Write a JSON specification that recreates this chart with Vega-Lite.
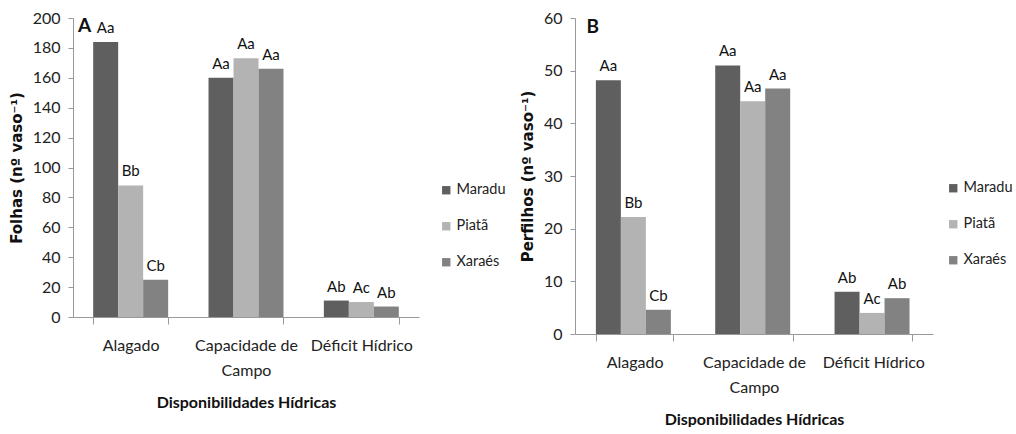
{
  "$schema": "https://vega.github.io/schema/vega-lite/v6.json",
  "padding": {"left": 9, "top": 10, "right": 0, "bottom": 0},
  "background": "white",
  "datasets": {
    "folhas": [
      {"cond": "Alagado", "cult": "Maradu", "value": 184, "letter": "Aa"},
      {"cond": "Alagado", "cult": "Piatã", "value": 88, "letter": "Bb"},
      {"cond": "Alagado", "cult": "Xaraés", "value": 25, "letter": "Cb"},
      {"cond": "Capacidade de Campo", "cult": "Maradu", "value": 160, "letter": "Aa"},
      {"cond": "Capacidade de Campo", "cult": "Piatã", "value": 173, "letter": "Aa"},
      {"cond": "Capacidade de Campo", "cult": "Xaraés", "value": 166, "letter": "Aa"},
      {"cond": "Déficit Hídrico", "cult": "Maradu", "value": 11, "letter": "Ab"},
      {"cond": "Déficit Hídrico", "cult": "Piatã", "value": 10, "letter": "Ac"},
      {"cond": "Déficit Hídrico", "cult": "Xaraés", "value": 7, "letter": "Ab"}
    ],
    "perfilhos": [
      {"cond": "Alagado", "cult": "Maradu", "value": 48.2, "letter": "Aa"},
      {"cond": "Alagado", "cult": "Piatã", "value": 22.2, "letter": "Bb"},
      {"cond": "Alagado", "cult": "Xaraés", "value": 4.6, "letter": "Cb"},
      {"cond": "Capacidade de Campo", "cult": "Maradu", "value": 51, "letter": "Aa"},
      {"cond": "Capacidade de Campo", "cult": "Piatã", "value": 44.2, "letter": "Aa"},
      {"cond": "Capacidade de Campo", "cult": "Xaraés", "value": 46.6, "letter": "Aa"},
      {"cond": "Déficit Hídrico", "cult": "Maradu", "value": 8, "letter": "Ab"},
      {"cond": "Déficit Hídrico", "cult": "Piatã", "value": 4, "letter": "Ac"},
      {"cond": "Déficit Hídrico", "cult": "Xaraés", "value": 6.8, "letter": "Ab"}
    ]
  },
  "hconcat": [
    {
      "width": 346,
      "height": 299,
      "data": {"name": "folhas"},
      "layer": [
        {
          "mark": {"type": "bar"},
          "encoding": {
            "x": {"field": "cond", "type": "nominal", "sort": ["Alagado", "Capacidade de Campo", "Déficit Hídrico"], "scale": {"paddingInner": 0.35, "paddingOuter": 0.175}, "title": "Disponibilidades Hídricas"},
            "xOffset": {"field": "cult", "type": "nominal", "sort": ["Maradu", "Piatã", "Xaraés"], "scale": {"padding": 0}},
            "y": {"field": "value", "type": "quantitative", "scale": {"domain": [0, 200], "nice": false}, "axis": {"values": [0, 20, 40, 60, 80, 100, 120, 140, 160, 180, 200], "labelOverlap": false}, "title": "Folhas (nº vaso⁻¹)"},
            "color": {"field": "cult", "type": "nominal", "scale": {"domain": ["Maradu", "Piatã", "Xaraés"], "range": ["#5f5f5f", "#b3b3b3", "#828282"]}, "legend": {"orient": "none", "legendX": 366, "legendY": 165}}
          }
        },
        {
          "mark": {"type": "text", "baseline": "bottom", "dy": -6, "fontSize": 15, "font": "Lato", "color": "#111"},
          "encoding": {
            "x": {"field": "cond", "type": "nominal", "sort": ["Alagado", "Capacidade de Campo", "Déficit Hídrico"], "title": "Disponibilidades Hídricas"},
            "xOffset": {"field": "cult", "type": "nominal", "sort": ["Maradu", "Piatã", "Xaraés"]},
            "y": {"field": "value", "type": "quantitative", "axis": {"values": [0, 20, 40, 60, 80, 100, 120, 140, 160, 180, 200], "labelOverlap": false}, "title": "Folhas (nº vaso⁻¹)"},
            "text": {"field": "letter"}
          }
        },
        {
          "data": {"values": [{"label": "A"}]},
          "mark": {"type": "text", "baseline": "middle", "dx": -46, "fontSize": 19, "fontWeight": "bold", "font": "Lato", "color": "#111"},
          "encoding": {
            "x": {"datum": "Alagado", "type": "nominal", "title": "Disponibilidades Hídricas"},
            "y": {"datum": 194.5, "type": "quantitative", "axis": {"values": [0, 20, 40, 60, 80, 100, 120, 140, 160, 180, 200], "labelOverlap": false}, "title": "Folhas (nº vaso⁻¹)"},
            "text": {"field": "label"}
          }
        }
      ]
    },
    {
      "width": 358,
      "height": 316,
      "data": {"name": "perfilhos"},
      "layer": [
        {
          "mark": {"type": "bar"},
          "encoding": {
            "x": {"field": "cond", "type": "nominal", "sort": ["Alagado", "Capacidade de Campo", "Déficit Hídrico"], "scale": {"paddingInner": 0.35, "paddingOuter": 0.175}, "title": "Disponibilidades Hídricas"},
            "xOffset": {"field": "cult", "type": "nominal", "sort": ["Maradu", "Piatã", "Xaraés"], "scale": {"padding": 0}},
            "y": {"field": "value", "type": "quantitative", "scale": {"domain": [0, 60], "nice": false}, "axis": {"values": [0, 10, 20, 30, 40, 50, 60], "labelOverlap": false}, "title": "Perfilhos (nº vaso⁻¹)"},
            "color": {"field": "cult", "type": "nominal", "scale": {"domain": ["Maradu", "Piatã", "Xaraés"], "range": ["#5f5f5f", "#b3b3b3", "#828282"]}, "legend": {"orient": "none", "legendX": 371, "legendY": 163}}
          }
        },
        {
          "mark": {"type": "text", "baseline": "bottom", "dy": -6, "fontSize": 15, "font": "Lato", "color": "#111"},
          "encoding": {
            "x": {"field": "cond", "type": "nominal", "sort": ["Alagado", "Capacidade de Campo", "Déficit Hídrico"], "title": "Disponibilidades Hídricas"},
            "xOffset": {"field": "cult", "type": "nominal", "sort": ["Maradu", "Piatã", "Xaraés"]},
            "y": {"field": "value", "type": "quantitative", "axis": {"values": [0, 10, 20, 30, 40, 50, 60], "labelOverlap": false}, "title": "Perfilhos (nº vaso⁻¹)"},
            "text": {"field": "letter"}
          }
        },
        {
          "data": {"values": [{"label": "B"}]},
          "mark": {"type": "text", "baseline": "middle", "dx": -42, "fontSize": 19, "fontWeight": "bold", "font": "Lato", "color": "#111"},
          "encoding": {
            "x": {"datum": "Alagado", "type": "nominal", "title": "Disponibilidades Hídricas"},
            "y": {"datum": 58.3, "type": "quantitative", "axis": {"values": [0, 10, 20, 30, 40, 50, 60], "labelOverlap": false}, "title": "Perfilhos (nº vaso⁻¹)"},
            "text": {"field": "label"}
          }
        }
      ]
    }
  ],
  "spacing": 14,
  "resolve": {"legend": {"color": "independent"}},
  "config": {
    "view": {"stroke": null},
    "axis": {
      "grid": false,
      "domainColor": "#999",
      "tickColor": "#999",
      "labelColor": "#222",
      "labelFont": "Lato",
      "labelFontSize": 16,
      "labelOverlap": false,
      "titleColor": "#111"
    },
    "axisY": {
      "tickSize": 5,
      "labelPadding": 8,
      "titlePadding": 8,
      "titleFont": "DejaVu Sans, sans-serif",
      "titleFontWeight": "bold",
      "titleFontSize": 15
    },
    "axisX": {
      "labelAngle": 0,
      "tickBand": "extent",
      "tickSize": 7,
      "labelPadding": 13,
      "labelLineHeight": 25,
      "labelExpr": "datum.value == 'Capacidade de Campo' ? ['Capacidade de', 'Campo'] : datum.value",
      "titlePadding": 16,
      "titleFont": "Lato",
      "titleFontWeight": "bold",
      "titleFontSize": 16
    },
    "legend": {
      "title": null,
      "symbolType": "square",
      "symbolSize": 70,
      "symbolStrokeWidth": 0,
      "labelFont": "Lato",
      "labelFontSize": 14.5,
      "labelColor": "#222",
      "rowPadding": 21,
      "labelOffset": 3
    }
  }
}
